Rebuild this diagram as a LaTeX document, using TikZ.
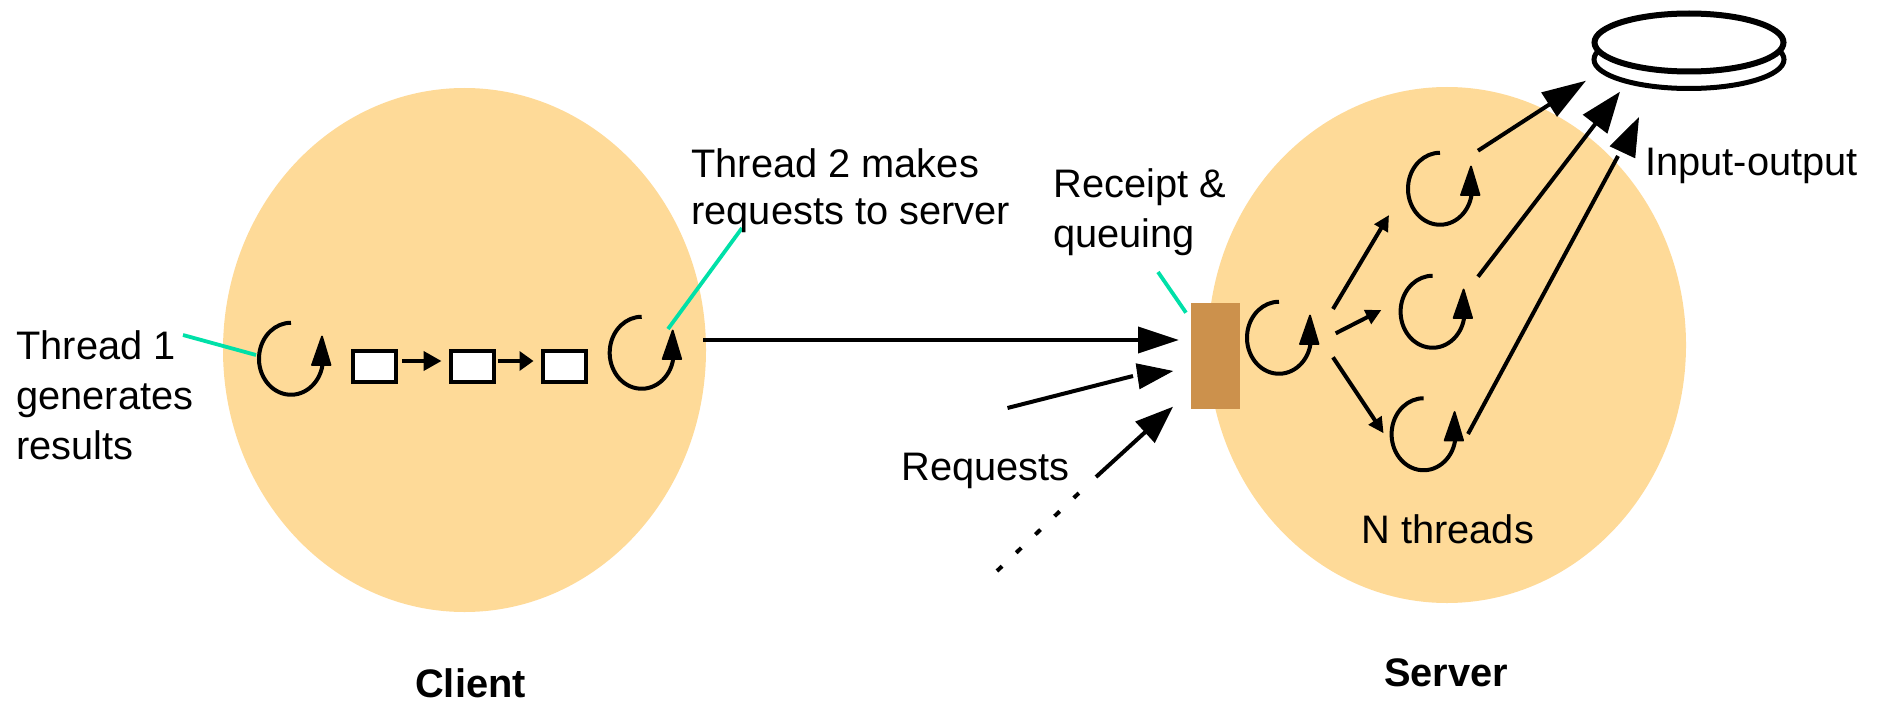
\documentclass[tikz,border=0pt]{standalone}
\usepackage{fontspec}
\setmainfont{Liberation Sans}
\usetikzlibrary{arrows.meta}
\definecolor{blob}{RGB}{254,218,152}
\definecolor{queuebox}{RGB}{204,145,76}
\definecolor{leader}{RGB}{0,224,168}
\tikzset{
  x=.5pt,y=-.5pt,
  blobshape/.style={fill=blob,draw=none},
  label/.style={inner sep=0pt,anchor=west,align=left,font=\fontsize{19.9}{23.5}\selectfont},
  widelabel/.style={inner sep=0pt,anchor=west,align=left,font=\fontsize{19.9}{25}\selectfont},
  title/.style={inner sep=0pt,anchor=base,font=\fontsize{19.9}{23.5}\selectfont\bfseries},
  conn/.style={draw=black,line width=2pt},
  leaderline/.style={draw=leader,line width=1.9pt},
  buffer/.style={draw=black,fill=white,line width=2pt,minimum width=21.5pt,minimum height=15.5pt,inner sep=0pt},
  threadloop/.pic={
    \draw[line width=2pt] (31.5,6) arc[start angle=10,end angle=270,x radius=32,y radius=36,
      delta angle=260] ;
    \fill[draw=black,line width=.9pt,line join=round] (21,6) -- (39.5,6) -- (31,-22.5) -- cycle;
  }
}
\begin{document}
\begin{tikzpicture}
\path[use as bounding box] (0,0) rectangle (1879,701);

% process blobs
\node[blobshape] (clientblob) at (464.5,350) {};
\fill[blob] (464.5,350) ellipse[x radius=241.5,y radius=262];
\node[blobshape] (serverblob) at (1447,345) {};
\fill[blob] (1447,345) ellipse[x radius=239,y radius=258];

% disk
\draw[line width=2.5pt,fill=white] (1689,59.5) ellipse[x radius=95,y radius=29];
\draw[line width=3pt,fill=white] (1689,42.5) ellipse[x radius=94.5,y radius=29];

% queue
\node[fill=queuebox,minimum width=24.5pt,minimum height=53pt,inner sep=0pt] (queue) at (1215.5,356) {};

% threads
\pic at (291,359) {threadloop};
\pic at (641.7,353) {threadloop};
\pic at (1279,338) {threadloop};
\pic at (1440,189) {threadloop};
\pic at (1432.6,312) {threadloop};
\pic at (1423.6,434.5) {threadloop};

% buffers
\node[buffer] (b1) at (374.7,366) {};
\node[buffer] (b2) at (472,366) {};
\node[buffer] (b3) at (564,366) {};
\draw[conn,shorten <=2pt,shorten >=3.5pt,-{Triangle[length=9pt,width=9.5pt]}] ([yshift=2.5pt]b1.east) -- ([yshift=2.5pt]b2.west);
\draw[conn,shorten <=1pt,shorten >=3.5pt,-{Triangle[length=7pt,width=9.5pt]}] ([yshift=2.5pt]b2.east) -- ([yshift=2.5pt]b3.west);

% named end points
\coordinate (reqstart) at (703,340);
\coordinate (reqtip) at (1179,340);
\coordinate (r2start) at (1007.5,408);
\coordinate (r2end) at (1133,376);
\coordinate (r2base) at (1137.5,376.3);
\coordinate (r2tip) at (1173.2,371);
\coordinate (r3dots) at (997,571);
\coordinate (r3dotsend) at (1080,492);
\coordinate (r3start) at (1096,477);
\coordinate (r3tip) at (1173,406.7);
\coordinate (o1start) at (1478,150.7);
\coordinate (o1tip) at (1586,80.7);
\coordinate (o2start) at (1478,276.7);
\coordinate (o2tip) at (1620,91.7);
\coordinate (o3start) at (1468,434);
\coordinate (o3end) at (1618,156);
\coordinate (o3base) at (1623,151);
\coordinate (o3tip) at (1639,117);
\coordinate (d1start) at (1333,309);
\coordinate (d1tip) at (1389,215);
\coordinate (d2start) at (1335.7,333.3);
\coordinate (d2tip) at (1381.4,310);
\coordinate (d3start) at (1333,357.3);
\coordinate (d3tip) at (1383.6,433.3);

% requests
\draw[conn,-{Triangle[length=20.5pt,width=13pt]}] (reqstart) -- (reqtip);
\draw[conn] (r2start) -- (r2end);
\draw[line width=.5pt,-{Triangle[length=18pt,width=13pt]}] (r2base) -- (r2tip);
\draw[conn,dash pattern=on 3.5pt off 9.75pt] (r3dots) -- (r3dotsend);
\draw[conn,-{Triangle[length=19pt,width=14pt]}] (r3start) -- (r3tip);

% to disk
\draw[conn,-{Triangle[length=22pt,width=14pt]}] (o1start) -- (o1tip);
\draw[conn,-{Triangle[length=20.5pt,width=15pt]}] (o2start) -- (o2tip);
\draw[conn] (o3start) -- (o3end);
\draw[line width=.5pt,-{Triangle[length=19.5pt,width=14pt]}] (o3base) -- (o3tip);

% dispatch
\draw[conn,-{Triangle[length=7.8pt,width=7.5pt]}] (d1start) -- (d1tip);
\draw[conn,-{Triangle[length=7.8pt,width=7.5pt]}] (d2start) -- (d2tip);
\draw[conn,-{Triangle[length=7.8pt,width=7.5pt]}] (d3start) -- (d3tip);

% leaders
\coordinate (l1a) at (183,335);
\coordinate (l1b) at (256,355);
\coordinate (l2a) at (742,228);
\coordinate (l2b) at (668,329);
\coordinate (l3a) at (1158,272);
\coordinate (l3b) at (1186,312.7);
\draw[leaderline] (l1a) -- (l1b);
\draw[leaderline] (l2a) -- (l2b);
\draw[leaderline] (l3a) -- (l3b);

% text
\node[widelabel] (t1) at (16,395) {Thread 1\\generates\\results};
\node[label] (t2) at (691,191) {Thread 2 makes\\requests to server};
\node[widelabel] (t3) at (1053,212) {Receipt \&\\queuing};
\node[label] (t4) at (1645,165.5) {Input-output};
\node[label] (t5) at (901,470.5) {Requests};
\node[label] (t6) at (1361,529) {N threads};
\node[title] (t7) at (470.5,697) {Client};
\node[title] (t8) at (1446,686) {Server};
\end{tikzpicture}
\end{document}
